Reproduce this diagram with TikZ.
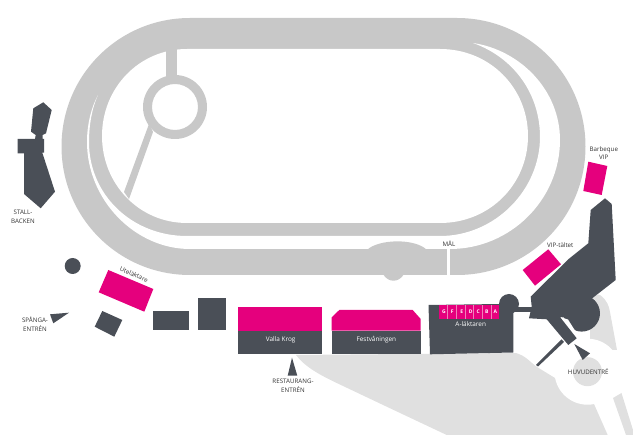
\documentclass[tikz,border=0pt]{standalone}
\usepackage{fontspec}
\setmainfont{Open Sans}
\definecolor{track}{HTML}{C8C8C8}
\definecolor{dark}{HTML}{4A4F57}
\definecolor{pinkm}{HTML}{E5007D}
\definecolor{lightg}{HTML}{E0E0E0}
\definecolor{tabline}{HTML}{F080B8}
\tikzset{
  lab/.style={font=\fontsize{6.2}{8.6}\selectfont,text=black!80,inner sep=0pt,align=center},
  wlab/.style={font=\fontsize{6.4}{8}\selectfont,text=white,inner sep=0pt,align=center},
  tlab/.style={font=\bfseries\fontsize{5}{6}\selectfont,text=white,inner sep=0pt},
  tab/.style={fill=pinkm}
}
\begin{document}
\begin{tikzpicture}[x=1pt,y=-1pt]
\useasboundingbox (0,0) rectangle (633,435);
% light ground
\fill[lightg] (296,355) -- (516,353) .. controls (526,356) and (530,362) .. (537,367) -- (555,378) -- (590,395) -- (607.7,435) -- (446.7,435) -- (386.7,406.7) -- (336.7,383) .. controls (320,375) and (305,367) .. (296,355) -- cycle;
\fill[lightg] (590,298) .. controls (595,295) and (598,294) .. (600,295) .. controls (607,300) and (609,306) .. (610,312) -- (617,350) -- (590,350) -- cycle;
\fill[white] (587.5,371.7) circle (33);
\fill[lightg] (587.5,371.7) circle (14.5);
\fill[lightg] (613,398) -- (621.5,393) -- (633,430) -- (633,435) -- (626,435) -- cycle;
% track
\fill[track] (190,18) -- (457,18) .. controls (528,18) and (585.5,75) .. (585.5,146.5) .. controls (585.5,218) and (528,275) .. (457,275) -- (190,275) .. controls (119,275) and (61.5,218) .. (61.5,146.5) .. controls (61.5,75) and (119,18) .. (190,18) -- cycle;
\fill[track] (383,274) .. controls (388,283) and (399,283) .. (404,274) -- cycle;
\fill[white] (447,249) rectangle (449.5,276);
\fill[white] (98,95) .. controls (91,108) and (87,125) .. (87,142) .. controls (87,200) and (135,249) .. (190,249) -- (450,249) .. controls (510,249) and (560,200) .. (560,140) .. controls (560,90) and (520,50) .. (473,43) .. controls (515,58) and (540,95) .. (540,137) .. controls (540,190) and (495,236) .. (440,236) -- (187,236) .. controls (132,236) and (89,195) .. (89,142) .. controls (89,125) and (92,108) .. (98,95) -- cycle;
\fill[track] (367,250) .. controls (378,239) and (415,238) .. (427,250) -- cycle;
\fill[white] (187,49) -- (440,49) .. controls (490,49) and (528,88) .. (528,136) .. controls (528,184) and (490,223) .. (440,223) -- (187,223) .. controls (139,223) and (102,184) .. (102,136) .. controls (102,88) and (139,49) .. (187,49) -- cycle;
\fill[track] (166,45) rectangle (177,80);
\fill[track] (149,124) -- (153,132) -- (129,199) -- (124,192) -- cycle;
\fill[track,even odd rule] (175,107) circle (32) (175,107) circle (23);
% left buildings
\fill[dark] (33.3,108.3) -- (43.3,102.3) -- (51.7,110) -- (46,133.3) -- (42.7,135) -- (42.7,139) -- (44,139) -- (44,152.7) -- (42.3,152.7) -- (55,191.7) -- (40.7,208.3) -- (24,194) -- (24,153.3) -- (17.7,153.3) -- (17.7,139) -- (35,139) -- (35.7,135) -- (31,131.7) -- cycle;
\fill[dark] (72.7,266) circle (8);
\fill[pinkm] (108.3,270) -- (153.3,289) -- (144.3,311.7) -- (98.7,292.3) -- cycle;
\fill[dark] (50,314.3) -- (69,312.7) -- (53.3,323.3) -- cycle;
\fill[dark] (102.3,311) -- (122.3,320) -- (114.3,336.7) -- (94.7,326.7) -- cycle;
\fill[dark] (152.7,310.7) rectangle (189.3,330);
\fill[dark] (198,297.7) rectangle (226,330);
% Valla Krog
\fill[pinkm] (237.7,307.3) rectangle (322.3,330.7);
\fill[dark] (237.7,330.7) rectangle (322.3,354);
\fill[dark] (292,357.7) -- (297.3,375.7) -- (287.7,375.7) -- cycle;
% Festvaningen
\fill[pinkm] (331.7,317.3) -- (339.3,310) -- (412.7,310) -- (420.7,319) -- (420.7,330.7) -- (331.7,330.7) -- cycle;
\fill[dark] (331.7,330.7) rectangle (420.7,354);
% A-laktaren
\fill[dark] (428.5,305) -- (500,304) -- (513.3,306) -- (513.3,352.5) -- (430,354.3) -- cycle;
\fill[dark] (509,304) circle (10);
\fill[dark] (513,307.3) rectangle (532,311.7);
\fill[tab] (438.7,305) rectangle (499.3,319.3);
\foreach \xb in {447.4,456,464.7,473.4,482,490.7}{
  \draw[tabline,line width=0.3pt] (\xb,305) -- (\xb,319.3);
}
\foreach \t/\tx in {G/444, F/452.3, E/461.7, D/470.7, C/478.3, B/486.7, A/495.3}{
  \node[tlab] at (\tx,311.5) {\t};
}
% main building
\fill[dark] (581.7,313.3) circle (18.3);
\fill[white] (560,317) -- (568,319.5) -- (574,329) -- (579,335) -- (576.7,338.3) -- cycle;
\fill[dark] (605,198.3) -- (611.7,204) -- (615.7,280) -- (590,300) -- (585,320) -- (560,317) -- (576.7,338.3) -- (568.3,345) -- (546.7,319.3) -- (529,318.3) -- (531.7,306.7) -- (530.7,296.7) -- (568.3,259.3) -- (588.3,243.3) -- (590.7,210) -- cycle;
\fill[dark] (536,365) -- (561.5,339.5) -- (564,342) -- (538,366.5) -- cycle;
\fill[dark] (574.3,344) -- (590,353.3) -- (582.7,360) -- cycle;
\fill[pinkm] (588.3,161.7) -- (607.3,166) -- (601.7,195) -- (583.3,191) -- cycle;
\fill[pinkm] (548.3,249.3) -- (561,264.3) -- (535,285.7) -- (522.7,270) -- cycle;
% labels
\node[lab] (stall) at (23,216.5) {STALL-\\BACKEN};
\node[lab] (spanga) at (35,324) {SPÅNGA-\\ENTRÉN};
\node[lab,rotate=-24] (ute) at (134,274.3) {Uteläktare};
\node[lab] (rest) at (293,385.7) {RESTAURANG-\\ENTRÉN};
\node[wlab] (valla) at (280.7,339.7) {Valla Krog};
\node[wlab] (fest) at (376.3,339.7) {Festvåningen};
\node[wlab] (alak) at (470.7,324.3) {A-läktaren};
\node[lab] (mal) at (449,243.3) {MÅL};
\node[lab] (vip) at (560.3,244.7) {VIP-tältet};
\node[lab] (bbq) at (603.8,153) {Barbeque\\VIP};
\node[lab] (huvud) at (588.3,371.3) {HUVUDENTRÉ};
\end{tikzpicture}
\end{document}
